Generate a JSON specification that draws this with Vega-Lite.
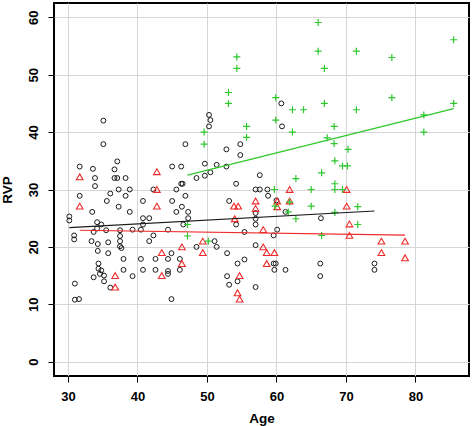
{
  "$schema": "https://vega.github.io/schema/vega-lite/v6.json",
  "width": 415,
  "height": 373,
  "autosize": {"type": "none"},
  "padding": {"left": 54, "top": 3, "right": 3, "bottom": 50},
  "background": "white",
  "config": {
    "view": {"stroke": "black", "strokeWidth": 2},
    "axis": {
      "grid": true,
      "gridColor": "#d6d6d6",
      "gridWidth": 1,
      "domain": false,
      "tickColor": "black",
      "tickSize": 6,
      "tickWidth": 1,
      "labelFont": "Liberation Sans",
      "labelFontWeight": "bold",
      "labelFontSize": 13,
      "labelColor": "black",
      "titleFont": "Liberation Sans",
      "titleFontWeight": "bold",
      "titleFontSize": 13.5,
      "titleColor": "black"
    }
  },
  "datasets": {
    "pts": [
      {"g":"a","age":30.2,"rvp":25.3},{"g":"a","age":30.2,"rvp":24.6},{"g":"a","age":30.9,"rvp":22.0},{"g":"a","age":30.9,"rvp":21.3},
      {"g":"a","age":31.0,"rvp":13.6},{"g":"a","age":31.0,"rvp":10.8},{"g":"a","age":31.6,"rvp":10.9},{"g":"a","age":31.7,"rvp":34.0},
      {"g":"a","age":31.7,"rvp":28.9},{"g":"a","age":33.6,"rvp":33.6},{"g":"a","age":33.5,"rvp":26.1},{"g":"a","age":33.9,"rvp":32.0},
      {"g":"a","age":33.9,"rvp":30.6},{"g":"a","age":33.4,"rvp":21.0},{"g":"a","age":33.7,"rvp":22.6},{"g":"a","age":33.7,"rvp":14.7},
      {"g":"a","age":34.2,"rvp":24.3},{"g":"a","age":34.2,"rvp":23.2},{"g":"a","age":34.3,"rvp":20.5},{"g":"a","age":34.3,"rvp":19.3},
      {"g":"a","age":34.4,"rvp":17.1},{"g":"a","age":34.4,"rvp":16.2},{"g":"a","age":34.6,"rvp":15.3},{"g":"a","age":34.8,"rvp":23.9},
      {"g":"a","age":34.8,"rvp":15.9},{"g":"a","age":35.1,"rvp":42.0},{"g":"a","age":35.1,"rvp":37.9},{"g":"a","age":35.2,"rvp":15.0},
      {"g":"a","age":35.2,"rvp":14.0},{"g":"a","age":35.5,"rvp":22.9},{"g":"a","age":35.6,"rvp":28.0},{"g":"a","age":35.8,"rvp":20.8},
      {"g":"a","age":35.8,"rvp":18.9},{"g":"a","age":36.1,"rvp":29.3},{"g":"a","age":36.1,"rvp":12.9},{"g":"a","age":36.7,"rvp":33.5},
      {"g":"a","age":36.7,"rvp":32.0},{"g":"a","age":37.1,"rvp":32.0},{"g":"a","age":37.1,"rvp":34.9},{"g":"a","age":37.3,"rvp":30.0},
      {"g":"a","age":37.3,"rvp":27.0},{"g":"a","age":37.5,"rvp":22.9},{"g":"a","age":37.5,"rvp":21.9},{"g":"a","age":37.5,"rvp":21.0},
      {"g":"a","age":37.5,"rvp":20.1},{"g":"a","age":37.7,"rvp":19.8},{"g":"a","age":38.0,"rvp":17.9},{"g":"a","age":38.0,"rvp":16.0},
      {"g":"a","age":38.3,"rvp":32.0},{"g":"a","age":38.3,"rvp":28.9},{"g":"a","age":38.9,"rvp":30.0},{"g":"a","age":38.9,"rvp":26.1},
      {"g":"a","age":39.3,"rvp":23.0},{"g":"a","age":39.3,"rvp":14.9},{"g":"a","age":40.5,"rvp":23.0},{"g":"a","age":40.5,"rvp":17.9},
      {"g":"a","age":40.8,"rvp":28.0},{"g":"a","age":40.8,"rvp":25.0},{"g":"a","age":40.8,"rvp":23.9},{"g":"a","age":40.8,"rvp":16.0},
      {"g":"a","age":41.7,"rvp":25.0},{"g":"a","age":41.7,"rvp":21.0},{"g":"a","age":42.3,"rvp":30.0},{"g":"a","age":42.3,"rvp":22.0},
      {"g":"a","age":42.6,"rvp":17.9},{"g":"a","age":42.6,"rvp":16.0},{"g":"a","age":44.4,"rvp":23.0},{"g":"a","age":44.4,"rvp":17.9},
      {"g":"a","age":44.4,"rvp":15.8},{"g":"a","age":44.4,"rvp":15.3},{"g":"a","age":44.9,"rvp":18.9},{"g":"a","age":44.9,"rvp":10.9},
      {"g":"a","age":45.0,"rvp":34.0},{"g":"a","age":45.0,"rvp":28.0},{"g":"a","age":45.6,"rvp":30.0},{"g":"a","age":45.6,"rvp":26.1},
      {"g":"a","age":46.1,"rvp":17.9},{"g":"a","age":46.1,"rvp":16.0},{"g":"a","age":46.3,"rvp":34.0},{"g":"a","age":46.3,"rvp":31.0},
      {"g":"a","age":46.5,"rvp":31.0},{"g":"a","age":46.4,"rvp":27.0},{"g":"a","age":46.6,"rvp":23.9},{"g":"a","age":46.9,"rvp":37.9},
      {"g":"a","age":46.9,"rvp":28.9},{"g":"a","age":47.3,"rvp":26.1},{"g":"a","age":47.3,"rvp":25.0},{"g":"a","age":48.5,"rvp":32.0},
      {"g":"a","age":48.5,"rvp":20.0},{"g":"a","age":49.7,"rvp":34.5},{"g":"a","age":49.7,"rvp":32.4},{"g":"a","age":50.3,"rvp":43.0},
      {"g":"a","age":50.5,"rvp":42.1},{"g":"a","age":50.3,"rvp":41.0},{"g":"a","age":50.5,"rvp":33.0},{"g":"a","age":51.1,"rvp":21.0},
      {"g":"a","age":51.4,"rvp":20.0},{"g":"a","age":51.4,"rvp":34.3},{"g":"a","age":52.8,"rvp":37.0},{"g":"a","age":52.8,"rvp":34.0},
      {"g":"a","age":52.9,"rvp":18.9},{"g":"a","age":52.9,"rvp":14.9},{"g":"a","age":53.2,"rvp":28.0},{"g":"a","age":53.2,"rvp":13.4},
      {"g":"a","age":54.2,"rvp":31.0},{"g":"a","age":54.2,"rvp":23.9},{"g":"a","age":54.4,"rvp":17.1},{"g":"a","age":54.4,"rvp":14.0},
      {"g":"a","age":54.8,"rvp":37.9},{"g":"a","age":54.8,"rvp":36.0},{"g":"a","age":55.4,"rvp":22.6},{"g":"a","age":55.4,"rvp":17.8},
      {"g":"a","age":57.0,"rvp":30.0},{"g":"a","age":57.0,"rvp":25.9},{"g":"a","age":57.0,"rvp":24.9},{"g":"a","age":57.0,"rvp":23.9},
      {"g":"a","age":57.0,"rvp":20.3},{"g":"a","age":57.0,"rvp":13.0},{"g":"a","age":57.6,"rvp":32.5},{"g":"a","age":57.6,"rvp":30.0},
      {"g":"a","age":58.7,"rvp":30.0},{"g":"a","age":58.8,"rvp":28.9},{"g":"a","age":59.6,"rvp":22.0},{"g":"a","age":59.6,"rvp":17.1},
      {"g":"a","age":59.7,"rvp":16.0},{"g":"a","age":59.9,"rvp":17.1},{"g":"a","age":60.0,"rvp":28.1},{"g":"a","age":60.1,"rvp":23.0},
      {"g":"a","age":60.7,"rvp":45.0},{"g":"a","age":60.8,"rvp":41.0},{"g":"a","age":61.3,"rvp":16.0},{"g":"a","age":61.3,"rvp":26.1},
      {"g":"a","age":66.4,"rvp":25.0},{"g":"a","age":66.3,"rvp":17.1},{"g":"a","age":66.3,"rvp":14.9},{"g":"a","age":74.1,"rvp":17.1},
      {"g":"a","age":74.1,"rvp":16.0},
      {"g":"b","age":31.7,"rvp":32.2},{"g":"b","age":31.7,"rvp":27.1},{"g":"b","age":36.8,"rvp":15.0},{"g":"b","age":36.8,"rvp":13.0},
      {"g":"b","age":42.8,"rvp":33.1},{"g":"b","age":42.8,"rvp":30.0},{"g":"b","age":42.8,"rvp":27.1},{"g":"b","age":43.5,"rvp":19.0},
      {"g":"b","age":43.5,"rvp":15.0},{"g":"b","age":46.4,"rvp":20.0},{"g":"b","age":46.4,"rvp":17.1},{"g":"b","age":49.4,"rvp":21.0},
      {"g":"b","age":49.4,"rvp":19.0},{"g":"b","age":53.9,"rvp":27.1},{"g":"b","age":54.5,"rvp":27.1},{"g":"b","age":54.0,"rvp":24.9},
      {"g":"b","age":54.7,"rvp":15.0},{"g":"b","age":54.4,"rvp":12.0},{"g":"b","age":54.7,"rvp":10.9},{"g":"b","age":57.0,"rvp":28.0},
      {"g":"b","age":57.0,"rvp":26.7},{"g":"b","age":58.1,"rvp":23.0},{"g":"b","age":58.1,"rvp":20.0},{"g":"b","age":58.6,"rvp":19.0},
      {"g":"b","age":58.6,"rvp":17.1},{"g":"b","age":59.7,"rvp":19.0},{"g":"b","age":60.1,"rvp":28.0},{"g":"b","age":60.1,"rvp":27.0},
      {"g":"b","age":61.9,"rvp":30.0},{"g":"b","age":61.9,"rvp":28.0},{"g":"b","age":70.1,"rvp":30.0},{"g":"b","age":70.1,"rvp":27.1},
      {"g":"b","age":70.5,"rvp":24.0},{"g":"b","age":70.5,"rvp":22.0},{"g":"b","age":75.1,"rvp":21.0},{"g":"b","age":75.1,"rvp":19.0},
      {"g":"b","age":78.5,"rvp":21.0},{"g":"b","age":78.5,"rvp":18.1},
      {"g":"c","age":47.2,"rvp":23.9},{"g":"c","age":47.2,"rvp":21.9},{"g":"c","age":49.6,"rvp":40.0},{"g":"c","age":49.6,"rvp":37.9},
      {"g":"c","age":50.2,"rvp":21.0},{"g":"c","age":53.1,"rvp":46.9},{"g":"c","age":53.1,"rvp":45.0},{"g":"c","age":54.3,"rvp":53.1},
      {"g":"c","age":54.3,"rvp":51.1},{"g":"c","age":55.7,"rvp":41.0},{"g":"c","age":55.7,"rvp":39.1},{"g":"c","age":59.7,"rvp":30.0},
      {"g":"c","age":59.8,"rvp":27.1},{"g":"c","age":59.9,"rvp":46.0},{"g":"c","age":59.9,"rvp":42.1},{"g":"c","age":62.3,"rvp":43.9},
      {"g":"c","age":62.3,"rvp":40.0},{"g":"c","age":61.9,"rvp":27.8},{"g":"c","age":61.7,"rvp":26.1},{"g":"c","age":62.8,"rvp":31.9},
      {"g":"c","age":62.8,"rvp":24.9},{"g":"c","age":63.9,"rvp":43.9},{"g":"c","age":65.0,"rvp":30.0},{"g":"c","age":65.0,"rvp":27.1},
      {"g":"c","age":66.0,"rvp":59.1},{"g":"c","age":66.0,"rvp":54.1},{"g":"c","age":66.5,"rvp":32.9},{"g":"c","age":66.5,"rvp":22.0},
      {"g":"c","age":66.9,"rvp":51.1},{"g":"c","age":66.9,"rvp":45.0},{"g":"c","age":67.3,"rvp":39.0},{"g":"c","age":68.3,"rvp":41.0},
      {"g":"c","age":68.3,"rvp":38.0},{"g":"c","age":68.4,"rvp":35.0},{"g":"c","age":68.4,"rvp":31.0},{"g":"c","age":68.4,"rvp":30.0},
      {"g":"c","age":68.4,"rvp":26.0},{"g":"c","age":69.5,"rvp":34.1},{"g":"c","age":70.2,"rvp":34.1},{"g":"c","age":70.3,"rvp":37.0},
      {"g":"c","age":69.5,"rvp":30.0},{"g":"c","age":71.5,"rvp":54.1},{"g":"c","age":71.5,"rvp":43.9},{"g":"c","age":71.7,"rvp":27.0},
      {"g":"c","age":71.7,"rvp":23.9},{"g":"c","age":76.6,"rvp":53.0},{"g":"c","age":76.6,"rvp":46.0},{"g":"c","age":81.2,"rvp":43.0},
      {"g":"c","age":81.2,"rvp":40.0},{"g":"c","age":85.5,"rvp":56.1},{"g":"c","age":85.5,"rvp":45.0}
    ],
    "fit": [
      {"g":"a","age":30.2,"rvp":23.35},{"g":"a","age":74.1,"rvp":26.25},
      {"g":"b","age":31.7,"rvp":22.9},{"g":"b","age":78.5,"rvp":22.05},
      {"g":"c","age":47.2,"rvp":32.5},{"g":"c","age":85.5,"rvp":44.1}
    ]
  },
  "encoding": {
    "x": {
      "field": "age", "type": "quantitative",
      "scale": {"domain": [28, 87.7], "nice": false, "zero": false},
      "axis": {"values": [30, 40, 50, 60, 70, 80], "title": "Age", "labelPadding": 8, "titlePadding": 8}
    },
    "y": {
      "field": "rvp", "type": "quantitative",
      "scale": {"domain": [-2.5, 62.5], "nice": false, "zero": false},
      "axis": {"values": [0, 10, 20, 30, 40, 50, 60], "title": "RVP", "labelAngle": -90, "labelPadding": 8, "titlePadding": 13}
    }
  },
  "layer": [
    {
      "data": {"name": "pts"},
      "transform": [{"filter": "datum.g === 'a'"}],
      "mark": {"type": "point", "shape": "circle", "filled": false, "color": "#1a1a1a", "size": 24, "strokeWidth": 1, "opacity": 1}
    },
    {
      "data": {"name": "pts"},
      "transform": [{"filter": "datum.g === 'b'"}],
      "mark": {"type": "point", "shape": "triangle-up", "filled": false, "color": "#ee2a2a", "size": 45, "strokeWidth": 1.1, "opacity": 1}
    },
    {
      "data": {"name": "pts"},
      "transform": [{"filter": "datum.g === 'c'"}],
      "mark": {"type": "point", "shape": "M-1,0H1M0,-1V1", "filled": false, "color": "#2ec72e", "size": 49, "strokeWidth": 1.2, "opacity": 1}
    },
    {
      "data": {"name": "fit"},
      "mark": {"type": "line", "strokeWidth": 1.2},
      "encoding": {
        "color": {"field": "g", "type": "nominal", "scale": {"domain": ["a", "b", "c"], "range": ["#1a1a1a", "#ee2a2a", "#2ec72e"]}, "legend": null}
      }
    }
  ]
}
